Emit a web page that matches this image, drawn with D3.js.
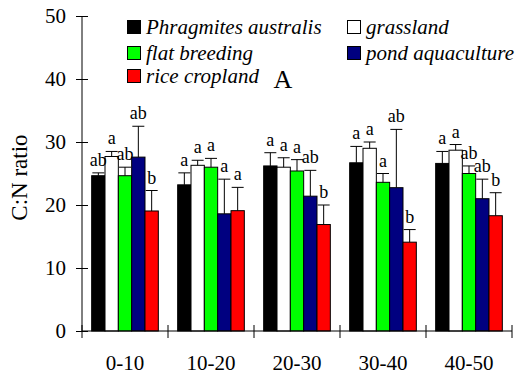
<!DOCTYPE html>
<html>
<head>
<meta charset="utf-8">
<script src="https://cdn.jsdelivr.net/npm/d3@7"></script>
<style>
  html, body { margin: 0; padding: 0; background: #fff; }
  svg { display: block; }
</style>
</head>
<body>
<svg id="chart" width="519" height="381"></svg>
<script>
// Soil depth intervals (cm)
const depths = ["0-10", "10-20", "20-30", "30-40", "40-50"];

// Land-use types
const landUses = ["Phragmites australis", "grassland", "flat breeding", "pond aquaculture", "rice cropland"];
const landColors = ["#000000", "#ffffff", "#00ff00", "#000080", "#ff0000"];

// Mean C:N ratio per land use, one value per depth interval
const phragmitesMean = [24.65, 23.2, 26.2, 26.7, 26.6];
const grasslandMean  = [27.7, 26.3, 26.0, 29.0, 28.7];
const flatMean       = [24.65, 26.0, 25.4, 23.6, 25.0];
const pondMean       = [27.6, 18.6, 21.4, 22.75, 21.0];
const riceMean       = [19.05, 19.1, 16.9, 14.1, 18.3];

// Standard errors
const phragmitesErr = [0.45, 1.9, 2.1, 2.6, 1.9];
const grasslandErr  = [0.8, 0.8, 1.5, 1.0, 0.9];
const flatErr       = [1.35, 1.4, 1.8, 1.4, 1.2];
const pondErr       = [4.9, 5.5, 4.1, 9.25, 3.1];
const riceErr       = [3.25, 3.7, 3.1, 2.0, 3.65];

// Significance letters
const phragmitesSig = ["ab", "a", "a", "a", "a"];
const grasslandSig  = ["a", "a", "a", "a", "a"];
const flatSig       = ["ab", "a", "a", "a", "ab"];
const pondSig       = ["ab", "a", "ab", "ab", "ab"];
const riceSig       = ["b", "a", "b", "b", "b"];

const yTicks = [0, 10, 20, 30, 40, 50];
const yTitle = "C:N ratio";
const panelTag = "A";

const FONT = "'Liberation Serif', 'Times New Roman', serif";

const means = [phragmitesMean, grasslandMean, flatMean, pondMean, riceMean];
const errs = [phragmitesErr, grasslandErr, flatErr, pondErr, riceErr];
const sigs = [phragmitesSig, grasslandSig, flatSig, pondSig, riceSig];

const rows = [];
depths.forEach((d, i) => {
  landUses.forEach((s, j) => {
    rows.push({ depth: d, series: s, idx: j, mean: means[j][i], err: errs[j][i], sig: sigs[j][i] });
  });
});

const svg = d3.select("#chart").style("font-family", FONT);
const plotL = 82, plotR = 512, plotT = 16, plotB = 331;

const x0 = d3.scaleBand().domain(depths).range([plotL, plotR]).paddingInner(0.225).paddingOuter(0.1125);
const x1 = d3.scaleBand().domain(landUses).range([0, x0.bandwidth()]);
const y = d3.scaleLinear().domain([0, 50]).range([plotB, plotT]);
const color = d3.scaleOrdinal().domain(landUses).range(landColors);

// Bars
const g = svg.append("g");
g.selectAll("rect.bar").data(rows).join("rect")
  .attr("class", "bar")
  .attr("x", d => x0(d.depth) + x1(d.series))
  .attr("y", d => y(d.mean))
  .attr("width", x1.bandwidth())
  .attr("height", d => y(0) - y(d.mean))
  .attr("fill", d => color(d.series))
  .attr("stroke", "#000")
  .attr("stroke-width", 1);

// Error bars (upper half only)
const cap = 12;
const cx = d => x0(d.depth) + x1(d.series) + x1.bandwidth() / 2;
const eb = g.selectAll("g.err").data(rows).join("g").attr("class", "err");
eb.append("line")
  .attr("x1", cx).attr("x2", cx)
  .attr("y1", d => y(d.mean))
  .attr("y2", d => y(d.mean + d.err))
  .attr("stroke", "#000").attr("stroke-width", 1);
eb.append("line")
  .attr("x1", d => cx(d) - cap / 2)
  .attr("x2", d => cx(d) + cap / 2)
  .attr("y1", d => y(d.mean + d.err))
  .attr("y2", d => y(d.mean + d.err))
  .attr("stroke", "#000").attr("stroke-width", 1);

// Significance letters
g.selectAll("text.sig").data(rows).join("text")
  .attr("class", "sig")
  .attr("x", cx)
  .attr("y", d => y(d.mean + d.err) - 7)
  .attr("text-anchor", "middle")
  .style("font-family", FONT)
  .style("font-size", "18px")
  .text(d => d.sig);

// Y axis
const yAxis = svg.append("g").attr("transform", `translate(${plotL},0)`)
  .call(d3.axisLeft(y).tickValues(yTicks).tickSizeInner(6).tickSizeOuter(0).tickPadding(10));
yAxis.attr("font-family", null).attr("font-size", null);
yAxis.select(".domain").attr("d", `M0,${plotT}V${plotB}`);
yAxis.selectAll(".tick line").attr("x1", -6).attr("x2", 6);
yAxis.selectAll(".tick text").style("font-family", FONT).style("font-size", "21px");

// X axis with ticks at category boundaries
const xAxis = svg.append("g").attr("transform", `translate(0,${plotB})`);
xAxis.append("line").attr("x1", plotL).attr("x2", plotR).attr("y1", 0).attr("y2", 0).attr("stroke", "#000");
const bounds = depths.map(d => x0(d) - x0.step() * x0.paddingInner() / 2).concat([plotR]);
xAxis.selectAll("line.bt").data(bounds).join("line")
  .attr("class", "bt")
  .attr("x1", d => d).attr("x2", d => d)
  .attr("y1", -6).attr("y2", 7)
  .attr("stroke", "#000");
xAxis.selectAll("text.xl").data(depths).join("text")
  .attr("class", "xl")
  .attr("x", d => x0(d) + x0.bandwidth() / 2)
  .attr("y", 39)
  .attr("text-anchor", "middle")
  .style("font-family", FONT)
  .style("font-size", "21px")
  .text(d => d);

// Y title
svg.append("text")
  .attr("transform", `translate(27,${(plotT + plotB) / 2 + 4}) rotate(-90)`)
  .attr("text-anchor", "middle")
  .style("font-family", FONT)
  .style("font-size", "23px")
  .text(yTitle);

// Legend
const legendPos = [[127, 27], [347, 27], [127, 53], [347, 53], [127, 76]];
const lg = svg.append("g").selectAll("g").data(landUses).join("g")
  .attr("transform", (d, i) => `translate(${legendPos[i][0]},${legendPos[i][1]})`);
lg.append("rect").attr("x", 0.5).attr("y", -6.5).attr("width", 13).attr("height", 13)
  .attr("fill", d => color(d)).attr("stroke", "#000");
lg.append("text").attr("x", 19).attr("y", 7)
  .style("font-family", FONT)
  .style("font-size", "21px").style("font-style", "italic")
  .text(d => d);

// Panel tag
svg.append("text").attr("x", 283).attr("y", 88).attr("text-anchor", "middle")
  .style("font-family", FONT)
  .style("font-size", "26px").text(panelTag);
</script>
</body>
</html>
